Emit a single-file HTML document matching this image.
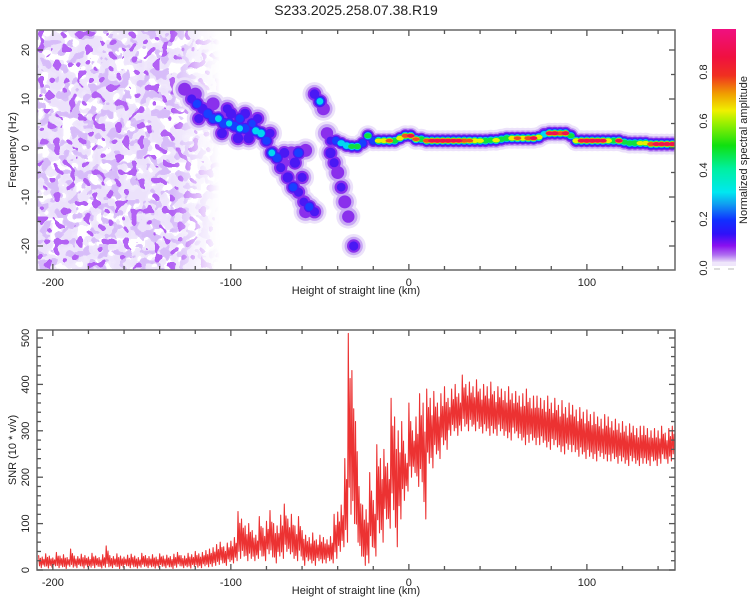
<!DOCTYPE html>
<html><head><meta charset="utf-8"><style>
html,body{margin:0;padding:0;background:#fff}
svg{display:block;font-family:"Liberation Sans",sans-serif}
</style></head><body>
<svg id="chart" width="750" height="600" viewBox="0 0 750 600" xmlns="http://www.w3.org/2000/svg">
<defs>
<linearGradient id="cbar" x1="0" y1="1" x2="0" y2="0">
<stop offset="0" stop-color="#e8dcf8"/><stop offset="0.03" stop-color="#b070f0"/><stop offset="0.07" stop-color="#8a10f0"/><stop offset="0.12" stop-color="#3010f8"/><stop offset="0.18" stop-color="#1030ff"/><stop offset="0.25" stop-color="#10a0f0"/><stop offset="0.3" stop-color="#00e8f0"/><stop offset="0.4" stop-color="#00f0a0"/><stop offset="0.5" stop-color="#10e010"/><stop offset="0.6" stop-color="#a0f000"/><stop offset="0.65" stop-color="#f0f000"/><stop offset="0.72" stop-color="#f0a000"/><stop offset="0.8" stop-color="#f03020"/><stop offset="0.88" stop-color="#f01040"/><stop offset="1" stop-color="#f01080"/>
</linearGradient>
<linearGradient id="fadeg" gradientUnits="userSpaceOnUse" x1="37" y1="0" x2="220" y2="0">
<stop offset="0" stop-color="#fff"/><stop offset="0.74" stop-color="#fff"/><stop offset="0.88" stop-color="#666"/><stop offset="1" stop-color="#000"/>
</linearGradient>
<mask id="fademask" maskUnits="userSpaceOnUse" x="0" y="0" width="750" height="600"><rect x="37" y="30" width="190" height="240" fill="url(#fadeg)"/></mask>
<filter id="nz1" filterUnits="userSpaceOnUse" x="37" y="30" width="190" height="240">
<feTurbulence type="fractalNoise" baseFrequency="0.08" numOctaves="2" seed="4"/>
<feColorMatrix type="matrix" values="0 0 0 0 0.84  0 0 0 0 0.76  0 0 0 0 0.97  1.4 0 0 0 -0.2"/>
<feComponentTransfer><feFuncA type="discrete" tableValues="0 0 0 0 0.8 0.9 1 1 1 1"/></feComponentTransfer>
</filter>
<filter id="nz2" filterUnits="userSpaceOnUse" x="37" y="30" width="190" height="240">
<feTurbulence type="fractalNoise" baseFrequency="0.1" numOctaves="2" seed="11"/>
<feColorMatrix type="matrix" values="0 0 0 0 0.68  0 0 0 0 0.5  0 0 0 0 0.95  1.6 0 0 0 -0.3"/>
<feComponentTransfer><feFuncA type="discrete" tableValues="0 0 0 0 0 0 0.9 1 1 1"/></feComponentTransfer>
</filter>
<filter id="nz3" filterUnits="userSpaceOnUse" x="37" y="30" width="190" height="240">
<feTurbulence type="fractalNoise" baseFrequency="0.13" numOctaves="1" seed="23"/>
<feColorMatrix type="matrix" values="0 0 0 0 0.45  0 0 0 0 0.12  0 0 0 0 0.9  1.8 0 0 0 -0.4"/>
<feComponentTransfer><feFuncA type="discrete" tableValues="0 0 0 0 0 0 0 1 1 1"/></feComponentTransfer>
</filter>
<clipPath id="clipTop"><rect x="37" y="30" width="638" height="240"/></clipPath>
<clipPath id="clipBot"><rect x="37" y="330" width="638" height="240"/></clipPath>
</defs>
<text x="356" y="15" font-size="14" text-anchor="middle" fill="#222">S233.2025.258.07.38.R19</text>
<g>
<g clip-path="url(#clipTop)">
<g mask="url(#fademask)">
<rect x="37" y="30" width="190" height="240" filter="url(#nz1)"/>
<rect x="37" y="30" width="190" height="240" filter="url(#nz2)"/>
<rect x="37" y="30" width="190" height="240" filter="url(#nz3)"/>
</g>
</g>
<g id="spec" clip-path="url(#clipTop)"></g>
<g id="topAxes"></g>
</g>
<g>
<rect x="712" y="29" width="24" height="233" fill="url(#cbar)"/>
<rect x="712" y="262" width="24" height="4" fill="#efe6fb"/>
<rect x="714" y="268" width="6" height="2" fill="#ddd"/>
<rect x="728" y="268" width="6" height="2" fill="#ddd"/>
<g id="cbLabels"></g>
<text transform="translate(747,150) rotate(-90)" font-size="11" text-anchor="middle" fill="#222">Normalized spectral amplitude</text>
</g>
<g>
<g clip-path="url(#clipBot)"><polyline id="snrLine" fill="none" stroke="#ec3232" stroke-width="1.1" stroke-linejoin="round"/></g>
<g id="botAxes"></g>
</g>
</svg>
<script>
// ---- spectrogram ridge data (km, Hz, normalized amplitude) ----
const ridgeKm = [-126,-122,-119,-116,-113,-110,-107,-104,-101,-98,-95,-92,-89,-86,-83,-80,-77,-74,-71,-68,-65,-62,-59,-56,-53,-70,-62,-58,
 -120,-118,-110,-105,-100,-96,-95,-90,-85,-78,-72,-66,-64,-60,-58,-92,-88,-102,
 -53,-50,-48,-46,-44,-42,-40,-38,-36,-34,-31,
 -44,-41,-38,-35,-32,-29,-26,-23,-20,-17,-14,-11,-8,-5,-2,1,4,7,10,13,16,19,22,25,28,31,34,37,40,43,46,49,52,55,58,61,64,67,70,73,76,79,82,85,88,91,94,97,100,103,106,109,112,115,118,121,124,127,130,133,136,139,142,145,148];
const ridgeHz = [12,10,9,8,7,6,6,5,5,4.5,4,4,4,3.5,3,1.5,-1,-2,-3,-6,-8,-9,-11,-12,-13,-1,-1,-0.5,
 11,6,9,3,7,2,6,2,6,3,-4,-1,-3,-6,-13,7,5,8,
 11,9.5,8,3,-1,-3,-5,-8,-11,-14,-20,
 1.5,1.5,1,0.5,0.3,0.3,1,2.5,1.5,1.5,1.5,1.5,1.5,2,2.5,2.5,1.8,1.8,1.5,1.5,1.5,1.5,1.5,1.5,1.5,1.5,1.5,1.5,1.5,1.5,1.6,1.6,1.8,2,2,2,2,2,2,2.2,2.8,3,3,3,3,2.5,1.5,1.5,1.5,1.5,1.5,1.5,1.5,1.5,1.5,1.2,1,1,1,1,0.8,0.8,0.8,0.8,0.8];
const ridgeAmp = [0.12,0.15,0.25,0.2,0.28,0.3,0.35,0.3,0.32,0.3,0.33,0.3,0.2,0.38,0.42,0.25,0.35,0.3,0.12,0.2,0.25,0.15,0.14,0.25,0.15,0.18,0.3,0.12,
 0.12,0.15,0.12,0.18,0.2,0.2,0.25,0.2,0.15,0.15,0.15,0.12,0.2,0.15,0.12,0.18,0.22,0.15,
 0.16,0.35,0.12,0.1,0.2,0.15,0.12,0.14,0.12,0.1,0.15,
 0.15,0.3,0.35,0.45,0.5,0.55,0.3,0.5,0.3,0.65,0.7,0.75,0.6,0.7,0.8,0.85,0.75,0.6,0.8,0.88,0.9,0.9,0.9,0.88,0.85,0.8,0.75,0.7,0.65,0.6,0.55,0.65,0.55,0.6,0.7,0.75,0.72,0.8,0.85,0.7,0.4,0.85,0.9,0.8,0.9,0.5,0.7,0.85,0.9,0.9,0.88,0.85,0.7,0.6,0.85,0.5,0.55,0.6,0.62,0.65,0.8,0.88,0.9,0.9,0.9];

// ---- SNR data (x = -208 + 2*i km) ----
const snrHi = [32,28,35,30,26,38,30,33,27,45, 30,29,34,31,28,36,30,27,33,52, 31,29,35,30,28,32,34,30,27,36, 31,29,33,28,35,30,32,29,34,38,
 31,30,36,33,40,35,38,42,45,48, 55,60,50,58,62,70,126,110,95,100, 85,75,115,90,105,128,100,95,118,142, 110,120,95,115,85,75,70,80,65,75,
 70,65,72,120,125,140,240,510,430,320, 180,140,130,210,150,270,240,260,230,370, 330,300,320,250,360,300,330,380,360,390, 370,385,360,380,395,370,390,400,380,420,
 400,405,395,410,390,400,395,405,385,395, 390,385,395,380,385,375,380,390,370,375, 375,370,365,375,360,370,355,365,350,360, 355,345,350,340,345,335,340,330,325,335,
 330,320,325,315,320,310,315,310,305,310, 310,305,300,305,300,310,295,305,310];
const snrLo = [5,8,4,6,9,5,7,3,8,6, 5,9,4,7,6,5,8,4,6,7, 5,8,3,6,9,5,7,4,6,8, 5,7,4,6,8,5,7,3,6,9,
 5,7,4,8,6,5,9,7,8,10, 12,15,10,18,15,20,25,30,20,25, 20,25,30,20,35,28,15,30,25,40, 35,25,20,30,10,20,15,10,20,15,
 15,20,15,25,40,50,60,120,100,60, 30,10,15,50,30,80,60,110,90,130, 50,110,150,170,200,210,180,190,110,230, 220,250,240,270,260,290,300,290,300,310,
 300,310,300,305,295,300,290,295,290,300, 290,285,280,295,285,280,270,275,280,270, 270,275,265,260,270,265,255,250,260,255, 255,245,250,240,245,240,235,245,240,235,
 235,240,230,235,230,225,235,230,225,230, 230,225,235,225,230,240,230,235,240];

const xTicks = [-200,-100,0,100];
const xTickLabels = ["-200","-100","0","100"];
const fTicks = [-20,-10,0,10,20];
const snrTicks = [0,100,200,300,400,500];
const cbTicks = [0,0.2,0.4,0.6,0.8];
const cbTickLabels = ["0.0","0.2","0.4","0.6","0.8"];

const NS = "http://www.w3.org/2000/svg";
const X0 = 37, X1 = 675, KM0 = -208.9, KM1 = 149.5;
function xs(km){ return X0 + (km - KM0) / (KM1 - KM0) * (X1 - X0); }
function yf(hz){ return 148 - hz * 4.9; }
function ysnr(v){ return 570 - v * 0.464; }
function mk(tag, attrs, parent){ const e = document.createElementNS(NS, tag); for (const k in attrs) e.setAttribute(k, attrs[k]); parent.appendChild(e); return e; }

const cmapStops = [[0,[232,220,248]],[0.03,[176,112,240]],[0.07,[138,16,240]],[0.12,[48,16,248]],[0.18,[16,48,255]],[0.25,[16,160,240]],[0.3,[0,232,240]],[0.4,[0,240,160]],[0.5,[16,224,16]],[0.6,[160,240,0]],[0.65,[240,240,0]],[0.72,[240,160,0]],[0.8,[240,48,32]],[0.88,[240,16,64]],[1,[240,16,128]]];
function cmap(v){
  for (let i = 1; i < cmapStops.length; i++) {
    if (v <= cmapStops[i][0]) {
      const a = cmapStops[i-1], b = cmapStops[i], t = (v - a[0]) / (b[0] - a[0]);
      const c = a[1].map((q, j) => Math.round(q + (b[1][j] - q) * t));
      return "rgb(" + c.join(",") + ")";
    }
  }
  return "rgb(240,16,128)";
}

// spectrogram ridge: contour-like passes
const spec = document.getElementById("spec");
const levels = [0.0,0.02,0.06,0.12,0.2,0.3,0.45,0.6,0.72,0.82];
const levelColor = ["#ece2fa","#c8a8f4","#8a30ec","#4a18f4","#1840ff","#00d8f0","#10e040","#e8f000","#f05020","#f01050"];
const levelScale = [1.5,1.15,0.95,0.8,0.7,0.62,0.55,0.5,0.45,0.4];
levels.forEach(function(t, li){
  for (let i = 0; i < ridgeKm.length; i++) {
    const a = ridgeAmp[i];
    if (a <= t) continue;
    const band = i >= 57;
    const R = band ? 7 : 8;
    const f = levelScale[li] * (li < 2 ? 1 : Math.sqrt(1 - t / a) * 0.5 + 0.5);
    const rx = band ? Math.max(3.8, R * f) : R * f;
    const ry = R * f;
    const el = mk("ellipse", {cx: xs(ridgeKm[i]).toFixed(1), cy: yf(ridgeHz[i]).toFixed(1), rx: rx.toFixed(1), ry: ry.toFixed(1), fill: levelColor[li]}, spec);
    
    
  }
});

// axes helper
function drawAxes(g, yTop, yBot, yFn, yTickVals, yMinorStep, yMin, yMax, yTitle, yTitleY, xLabelY){
  mk("rect", {x: X0, y: yTop, width: X1 - X0, height: yBot - yTop, fill: "none", stroke: "#666", "stroke-width": 1.5}, g);
  for (let km = -200; km <= 140; km += 20) {
    const x = xs(km), major = km % 100 === 0, L = major ? 6 : 4;
    mk("line", {x1: x, x2: x, y1: yBot, y2: yBot - L, stroke: "#555", "stroke-width": 1.3}, g);
    mk("line", {x1: x, x2: x, y1: yTop, y2: yTop + L, stroke: "#555", "stroke-width": 1.3}, g);
  }
  for (let v = yMin; v <= yMax + 1e-9; v += yMinorStep) {
    const y = yFn(v), major = yTickVals.indexOf(Math.round(v)) >= 0, L = major ? 6 : 4;
    mk("line", {x1: X0, x2: X0 + L, y1: y, y2: y, stroke: "#555", "stroke-width": 1.3}, g);
    mk("line", {x1: X1, x2: X1 - L, y1: y, y2: y, stroke: "#555", "stroke-width": 1.3}, g);
  }
  xTicks.forEach(function(km, i){
    const t = mk("text", {x: xs(km), y: xLabelY, "font-size": 11, "text-anchor": "middle", fill: "#222"}, g);
    t.textContent = xTickLabels[i];
    
    
  });
  yTickVals.forEach(function(v){
    const t = mk("text", {transform: "translate(29," + yFn(v) + ") rotate(-90)", "font-size": 11, "text-anchor": "middle", fill: "#222"}, g);
    t.textContent = String(v);
    
    
  });
  const xt = mk("text", {x: 356, y: xLabelY + 8, "font-size": 11, "text-anchor": "middle", fill: "#222"}, g);
  xt.textContent = "Height of straight line (km)";
  
  
  const yt = mk("text", {transform: "translate(16," + yTitleY + ") rotate(-90)", "font-size": 11, "text-anchor": "middle", fill: "#222"}, g);
  yt.textContent = yTitle;
  
  
}
drawAxes(document.getElementById("topAxes"), 30, 270, yf, fTicks, 5, -20, 20, "Frequency (Hz)", 150, 286);
drawAxes(document.getElementById("botAxes"), 330, 570, ysnr, snrTicks, 20, 0, 500, "SNR (10 * v/v)", 450, 586);

// colorbar labels
const cbl = document.getElementById("cbLabels");
cbTicks.forEach(function(v, i){
  const t = mk("text", {transform: "translate(707," + (268 - v * 245) + ") rotate(-90)", "font-size": 11, "text-anchor": "middle", fill: "#222"}, cbl);
  t.textContent = cbTickLabels[i];
  
  
});

// SNR line (dense zigzag between each sample's high and low)
const pts = [];
for (let i = 0; i < snrHi.length; i++) {
  const km = -208 + 2 * i;
  const h = snrHi[i], l = snrLo[i];
  pts.push(xs(km).toFixed(1) + "," + ysnr(h).toFixed(1));
  pts.push(xs(km + 0.5).toFixed(1) + "," + ysnr(l + (h - l) * 0.15).toFixed(1));
  pts.push(xs(km + 1.0).toFixed(1) + "," + ysnr(l + (h - l) * 0.75).toFixed(1));
  pts.push(xs(km + 1.5).toFixed(1) + "," + ysnr(l).toFixed(1));
}
document.getElementById("snrLine").setAttribute("points", pts.join(" "));
</script>
</body></html>
